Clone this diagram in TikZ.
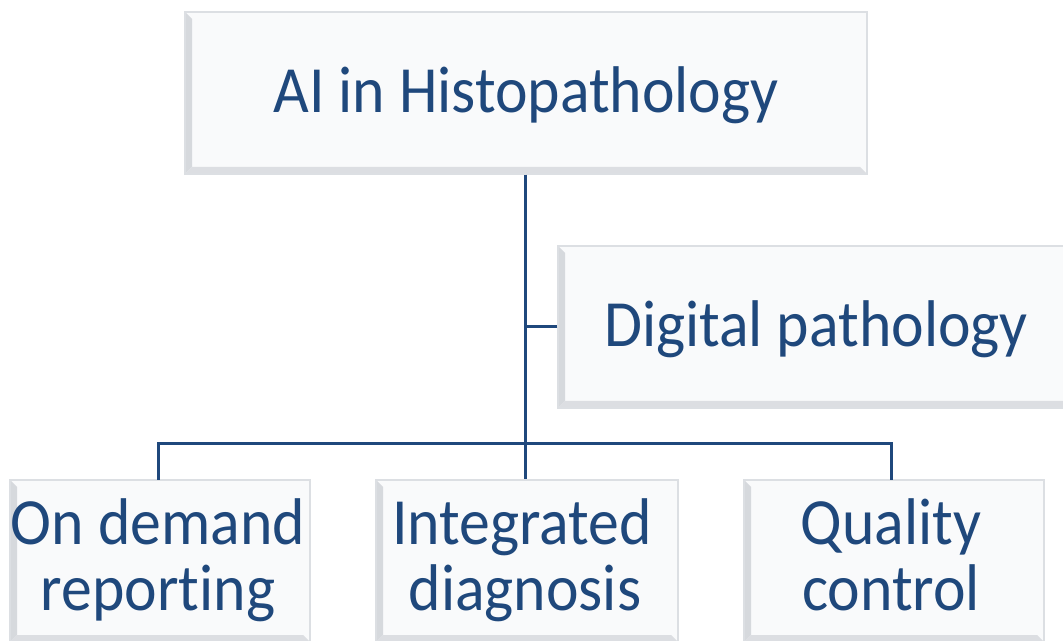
\documentclass[tikz,border=0pt]{standalone}
\usepackage{fontspec}
\setmainfont{Carlito}[FakeStretch=0.935, Ligatures=NoCommon]
\definecolor{txtblue}{HTML}{1F487C}
\definecolor{boxfill}{HTML}{F9FAFB}
\definecolor{boxline}{HTML}{DCDFE3}
\definecolor{bevelgray}{HTML}{C9CCD2}
\tikzset{
  x=1pt,y=1pt,
  boxnode/.style={draw=boxline, line width=1.2pt, fill=boxfill, rectangle, inner sep=0pt,
    path picture={
      \fill[bevelgray!75] (path picture bounding box.south west) -- (path picture bounding box.north west)
        -- ([shift={(7pt,-7pt)}]path picture bounding box.north west)
        -- ([shift={(7pt,7pt)}]path picture bounding box.south west) -- cycle;
      \fill[bevelgray!65] (path picture bounding box.south west) -- (path picture bounding box.south east)
        -- ([shift={(-7pt,7pt)}]path picture bounding box.south east)
        -- ([shift={(7pt,7pt)}]path picture bounding box.south west) -- cycle;
    }},
  lbl/.style={text=txtblue, font=\fontsize{66}{65}\selectfont, inner sep=0pt, anchor=base, align=center},
  conn/.style={draw=txtblue, line width=3pt}
}
\begin{document}
\begin{tikzpicture}
\useasboundingbox (0,0) rectangle (1063,640);
\clip (0,0) rectangle (1063,640);
\fill[white] (0,0) rectangle (1063,640);
% boxes
\node[boxnode, minimum width=682, minimum height=162] (top) at (526,547) {};
\node[boxnode, minimum width=516, minimum height=162] (digital) at (816,313) {};
\node[boxnode, minimum width=300, minimum height=162] (b1) at (160,79) {};
\node[boxnode, minimum width=302, minimum height=162] (b2) at (527,79) {};
\node[boxnode, minimum width=300, minimum height=162] (b3) at (894,79) {};
% labels
\node[lbl] (ttop) at (526,527) {AI in Histopathology};
\node[lbl] (tdig) at (816,293) {Digital pathology};
\node[lbl] (tb1a) at (158,95) {On demand};
\node[lbl] (tb1b) at (158,30) {reporting};
\node[lbl] (tb2a) at (522,95) {Integrated};
\node[lbl] (tb2b) at (525,30) {diagnosis};
\node[lbl] (tb3a) at (891,95) {Quality};
\node[lbl] (tb3b) at (891,30) {control};
% connectors
\coordinate (hub) at (525,196);
\coordinate (d1) at (158,160);
\coordinate (d3) at (891,160);
\draw[conn] (top.south -| hub) -- (hub);
\draw[conn] (digital.west) -- (digital.west -| hub);
\draw[conn] (d1) |- (hub) -| (d3);
\draw[conn] (hub) -- (b2.north -| hub);
\end{tikzpicture}
\end{document}
